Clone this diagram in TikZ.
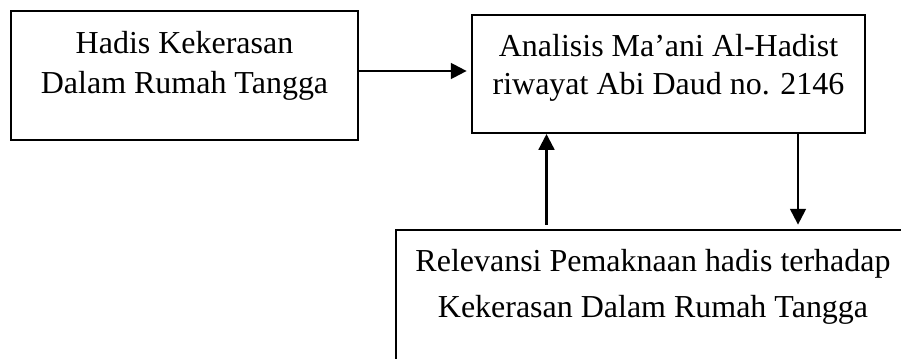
\documentclass[tikz,border=0pt]{standalone}
\usepackage{fontspec}
\setmainfont{Liberation Serif}
\usepackage{tikz}
\usetikzlibrary{arrows.meta}

\begin{document}
\begin{tikzpicture}[x=0.02cm, y=-0.02cm, line width=1.15pt,
    kotak/.style={draw, rectangle, inner sep=0pt},
    teks/.style={align=center, inner sep=0pt, font=\fontsize{18.2}{22.8}\selectfont},
    panah/.style={-{Triangle[length=9pt,width=9pt]}, line width=1.3pt}]
                \useasboundingbox (0,0) rectangle (901,358);
                \clip (0,0) rectangle (901,358);

                % kotak hadis
                \node[kotak, minimum width=6.94cm, minimum height=2.58cm] (hadis) at (184.5,75.5) {};
                \node[teks, anchor=north] (hadisTeks) at (184.5,30.5) {Hadis Kekerasan\\Dalam Rumah Tangga};

                % kotak analisis
                \node[kotak, minimum width=7.86cm, minimum height=2.36cm] (analisis) at (668.5,74) {};
                \node[teks, anchor=north, font=\fontsize{18.2}{21.8}\selectfont] (analisisTeks) at (668.5,33) {Analisis Ma’ani Al-Hadist\\riwayat Abi Daud no. 2146};

                % kotak relevansi (terpotong di kanan dan bawah)
                \node[kotak, anchor=north west, minimum width=10.36cm, minimum height=3cm] (relevansi) at (394.5,229) {};
                \node[teks, anchor=north, font=\fontsize{18.2}{26.2}\selectfont] (relevansiTeks) at (653,248) {Relevansi Pemaknaan hadis terhadap\\Kekerasan Dalam Rumah Tangga};

                % panah
                \draw[panah, shorten >=2.5pt] (hadis.east |- 0,71) -- (analisis.west |- 0,71);
                \draw[panah, shorten <=2.5pt] (relevansi.north -| 546.5,0) -- (analisis.south -| 546.5,0);
                \draw[panah, shorten >=2.5pt] (analisis.south -| 798,0) -- (relevansi.north -| 798,0);
\end{tikzpicture}
\end{document}
